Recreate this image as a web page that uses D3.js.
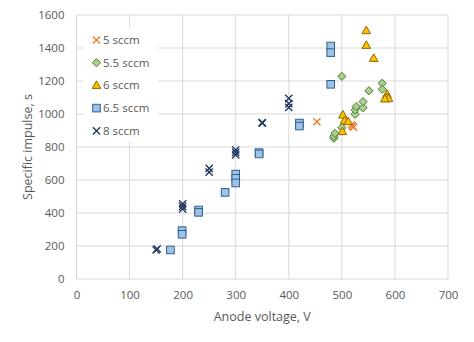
<!DOCTYPE html>
<html>
<head>
<meta charset="utf-8">
<script src="https://cdn.jsdelivr.net/npm/d3@7"></script>
<style>
  html, body { margin: 0; padding: 0; background: #fff; }
  svg { display: block; font-family: "Open Sans", "Liberation Sans", sans-serif; }
</style>
</head>
<body>
<svg id="chart" width="474" height="342"></svg>
<script>
// Anode voltage (V) and specific impulse (s) for each flow rate
const v5 = [453, 518, 522, 520];
const isp5 = [953, 935, 920, 927];

const v55 = [485, 485, 487, 500, 500, 525, 525, 527, 540, 540, 551, 576, 576];
const isp55 = [853, 865, 883, 1228, 917, 998, 1025, 1045, 1038, 1075, 1141, 1186, 1150];

const v6 = [546, 546, 560, 502, 505, 512, 501, 585, 585, 588, 581];
const isp6 = [1505, 1416, 1337, 994, 958, 953, 893, 1119, 1100, 1093, 1091];

const v65 = [177, 199, 199, 230, 230, 280, 300, 300, 300, 344, 344, 420, 420, 479, 479, 479];
const isp65 = [176, 293, 271, 418, 404, 525, 636, 610, 582, 766, 758, 945, 927, 1412, 1372, 1180];

const v8 = [150, 152, 200, 200, 200, 250, 250, 300, 300, 300, 350, 350, 400, 400, 400];
const isp8 = [176, 182, 455, 440, 425, 670, 648, 782, 767, 752, 948, 945, 1095, 1063, 1040];

const xTicks = [0, 100, 200, 300, 400, 500, 600, 700];
const yTicks = [0, 200, 400, 600, 800, 1000, 1200, 1400, 1600];

const seriesNames = ["5 sccm", "5.5 sccm", "6 sccm", "6.5 sccm", "8 sccm"];

const svg = d3.select("#chart");
const plot = { left: 76.5, right: 448, top: 15, bottom: 279 };

const x = d3.scaleLinear().domain([0, 700]).range([plot.left, plot.right]);
const y = d3.scaleLinear().domain([0, 1600]).range([plot.bottom, plot.top]);

const grid = "#d9d9d9";
const textCol = "#595959";

// gridlines
svg.append("g").selectAll("line").data(yTicks).join("line")
  .attr("x1", plot.left).attr("x2", plot.right)
  .attr("y1", d => y(d)).attr("y2", d => y(d))
  .attr("stroke", grid).attr("stroke-width", 1);
svg.append("g").selectAll("line").data(xTicks).join("line")
  .attr("y1", plot.top).attr("y2", plot.bottom)
  .attr("x1", d => x(d)).attr("x2", d => x(d))
  .attr("stroke", grid).attr("stroke-width", 1);

// axes (labels only)
const xAxis = svg.append("g").attr("transform", `translate(0,${plot.bottom})`)
  .call(d3.axisBottom(x).tickValues(xTicks).tickFormat(d3.format("d")).tickSize(0).tickPadding(12));
const yAxis = svg.append("g").attr("transform", `translate(${plot.left},0)`)
  .call(d3.axisLeft(y).tickValues(yTicks).tickFormat(d3.format("d")).tickSize(0).tickPadding(12));
[xAxis, yAxis].forEach(a => {
  a.select(".domain").remove();
  a.selectAll("text").attr("fill", textCol).attr("font-size", 11.5)
    .attr("font-family", "'Open Sans', sans-serif");
});

// axis titles
svg.append("text").attr("x", (plot.left + plot.right) / 2).attr("y", 321)
  .attr("text-anchor", "middle").attr("fill", textCol).attr("font-size", 12.5)
  .text("Anode voltage, V");
svg.append("text").attr("transform", `translate(32,${(plot.top + plot.bottom) / 2}) rotate(-90)`)
  .attr("text-anchor", "middle").attr("fill", textCol).attr("font-size", 12.5)
  .text("Specific impulse, s");

// marker shapes
const shapes = {
  cross: (g, c) => g.append("path").attr("d", "M-3.6,-3.6L3.6,3.6M-3.6,3.6L3.6,-3.6")
    .attr("stroke", c.stroke).attr("stroke-width", 1.4).attr("fill", "none"),
  diamond: (g, c) => g.append("path").attr("d", "M0,-4.1L4.1,0L0,4.1L-4.1,0Z")
    .attr("fill", c.fill).attr("stroke", c.stroke).attr("stroke-width", 1),
  triangle: (g, c) => g.append("path").attr("d", "M0,-4.6L4.3,3L-4.3,3Z")
    .attr("fill", c.fill).attr("stroke", c.stroke).attr("stroke-width", 1),
  square: (g, c) => g.append("rect").attr("x", -3.8).attr("y", -3.8)
    .attr("width", 7.6).attr("height", 7.6)
    .attr("fill", c.fill).attr("stroke", c.stroke).attr("stroke-width", 1)
};

const series = [
  { name: seriesNames[0], xs: v5, ys: isp5, shape: "cross", fill: "none", stroke: "#ed7d31" },
  { name: seriesNames[1], xs: v55, ys: isp55, shape: "diamond", fill: "#a9d18e", stroke: "#4e7a2e" },
  { name: seriesNames[2], xs: v6, ys: isp6, shape: "triangle", fill: "#ffc000", stroke: "#8a6a00" },
  { name: seriesNames[3], xs: v65, ys: isp65, shape: "square", fill: "#9dc3e6", stroke: "#2f5f8f" },
  { name: seriesNames[4], xs: v8, ys: isp8, shape: "cross", fill: "none", stroke: "#203864" }
];

// legend box (sits over the gridlines)
svg.append("rect").attr("x", 83).attr("y", 27).attr("width", 75).attr("height", 115)
  .attr("fill", "#fff");

// points, drawn in series order
series.forEach(s => {
  const g = svg.append("g");
  s.xs.forEach((vx, i) => {
    const m = g.append("g").attr("transform", `translate(${x(vx)},${y(s.ys[i])})`);
    shapes[s.shape](m, s);
  });
});

// legend entries
series.forEach((s, i) => {
  const ly = 40 + i * 22.7;
  const m = svg.append("g").attr("transform", `translate(96.5,${ly})`);
  shapes[s.shape](m, s);
  svg.append("text").attr("x", 103).attr("y", ly).attr("dy", "0.35em")
    .attr("fill", textCol).attr("font-size", 11.5).text(s.name);
});
</script>
</body>
</html>
